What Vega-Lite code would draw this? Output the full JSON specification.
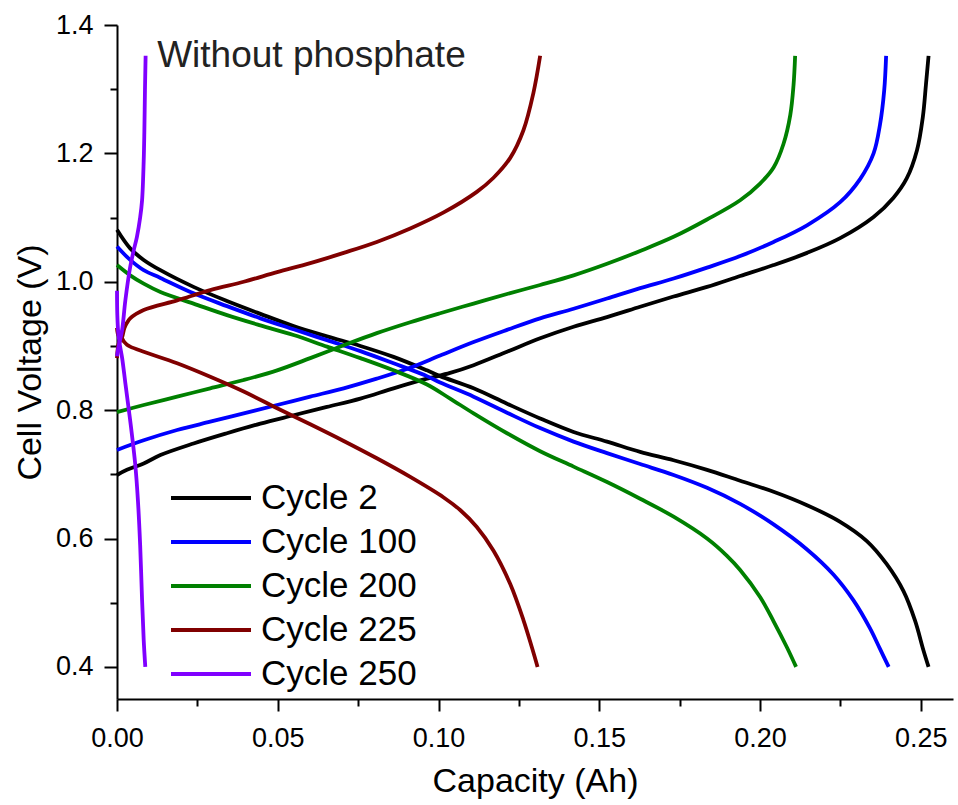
{
  "$schema": "https://vega.github.io/schema/vega-lite/v6.json",
  "width": 836,
  "height": 674,
  "autosize": {"type": "none"},
  "padding": {"left": 117, "top": 25, "right": 5, "bottom": 106},
  "background": "white",
  "config": {"font": "Liberation Sans", "view": {"stroke": null}, "axis": {"grid": false}},
  "encoding": {
    "x": {
      "field": "cap", "type": "quantitative",
      "scale": {"domain": [0, 0.26], "nice": false, "zero": false},
      "axis": {
        "title": "Capacity (Ah)",
        "values": [0, 0.025, 0.05, 0.075, 0.1, 0.125, 0.15, 0.175, 0.2, 0.225, 0.25],
        "labelExpr": "round(datum.value*40) % 2 == 0 ? format(datum.value, '.2f') : ''",
        "tickSize": 12,
        "tickDash": {"condition": {"test": "round(datum.value*40) % 2 == 1", "value": [7, 30]}, "value": [40, 0]},
        "labelPadding": 14, "titlePadding": 13,
        "labelFontSize": 27, "titleFontSize": 34, "titleFontWeight": "normal",
        "labelFont": "Liberation Sans", "titleFont": "Liberation Sans",
        "labelFlush": false, "labelOverlap": false, "grid": false,
        "domainColor": "black", "domainWidth": 2, "tickColor": "black", "tickWidth": 2,
        "labelColor": "black", "titleColor": "black"
      }
    },
    "y": {
      "field": "V", "type": "quantitative",
      "scale": {"domain": [0.35, 1.4], "nice": false, "zero": false},
      "axis": {
        "title": "Cell Voltage (V)",
        "values": [0.4, 0.5, 0.6, 0.7, 0.8, 0.9, 1.0, 1.1, 1.2, 1.3, 1.4],
        "labelExpr": "round(datum.value*10) % 2 == 0 ? format(datum.value, '.1f') : ''",
        "tickSize": 13,
        "tickDash": {"condition": {"test": "round(datum.value*10) % 2 == 1", "value": [7, 30]}, "value": [40, 0]},
        "labelPadding": 11, "titlePadding": 8,
        "labelFontSize": 27, "titleFontSize": 34, "titleFontWeight": "normal",
        "labelFont": "Liberation Sans", "titleFont": "Liberation Sans",
        "labelFlush": false, "labelOverlap": false, "grid": false,
        "domainColor": "black", "domainWidth": 2, "tickColor": "black", "tickWidth": 2,
        "labelColor": "black", "titleColor": "black"
      }
    }
  },
  "layer": [
    {
      "data": {"values": [
        {"cycle":"Cycle 2","branch":"c","i":0,"cap":0,"V":0.699},{"cycle":"Cycle 2","branch":"c","i":1,"cap":0.0031,"V":0.707},{"cycle":"Cycle 2","branch":"c","i":2,"cap":0.0083,"V":0.717},{"cycle":"Cycle 2","branch":"c","i":3,"cap":0.0135,"V":0.730},{"cycle":"Cycle 2","branch":"c","i":4,"cap":0.0238,"V":0.748},{"cycle":"Cycle 2","branch":"c","i":5,"cap":0.0342,"V":0.764},{"cycle":"Cycle 2","branch":"c","i":6,"cap":0.0446,"V":0.779},{"cycle":"Cycle 2","branch":"c","i":7,"cap":0.0549,"V":0.792},{"cycle":"Cycle 2","branch":"c","i":8,"cap":0.0653,"V":0.805},{"cycle":"Cycle 2","branch":"c","i":9,"cap":0.0757,"V":0.818},{"cycle":"Cycle 2","branch":"c","i":10,"cap":0.0860,"V":0.834},{"cycle":"Cycle 2","branch":"c","i":11,"cap":0.0964,"V":0.849},{"cycle":"Cycle 2","branch":"c","i":12,"cap":0.1036,"V":0.858},{"cycle":"Cycle 2","branch":"c","i":13,"cap":0.1109,"V":0.870},{"cycle":"Cycle 2","branch":"c","i":14,"cap":0.1213,"V":0.891},{"cycle":"Cycle 2","branch":"c","i":15,"cap":0.1316,"V":0.912},{"cycle":"Cycle 2","branch":"c","i":16,"cap":0.1420,"V":0.930},{"cycle":"Cycle 2","branch":"c","i":17,"cap":0.1524,"V":0.945},{"cycle":"Cycle 2","branch":"c","i":18,"cap":0.1627,"V":0.961},{"cycle":"Cycle 2","branch":"c","i":19,"cap":0.1731,"V":0.977},{"cycle":"Cycle 2","branch":"c","i":20,"cap":0.1835,"V":0.992},{"cycle":"Cycle 2","branch":"c","i":21,"cap":0.1938,"V":1.009},{"cycle":"Cycle 2","branch":"c","i":22,"cap":0.2042,"V":1.026},{"cycle":"Cycle 2","branch":"c","i":23,"cap":0.2146,"V":1.045},{"cycle":"Cycle 2","branch":"c","i":24,"cap":0.2249,"V":1.068},{"cycle":"Cycle 2","branch":"c","i":25,"cap":0.2353,"V":1.101},{"cycle":"Cycle 2","branch":"c","i":26,"cap":0.2415,"V":1.131},{"cycle":"Cycle 2","branch":"c","i":27,"cap":0.2456,"V":1.161},{"cycle":"Cycle 2","branch":"c","i":28,"cap":0.2488,"V":1.205},{"cycle":"Cycle 2","branch":"c","i":29,"cap":0.2506,"V":1.256},{"cycle":"Cycle 2","branch":"c","i":30,"cap":0.2516,"V":1.308},{"cycle":"Cycle 2","branch":"c","i":31,"cap":0.2524,"V":1.352},
        {"cycle":"Cycle 2","branch":"d","i":0,"cap":0,"V":1.081},{"cycle":"Cycle 2","branch":"d","i":1,"cap":0.0041,"V":1.052},{"cycle":"Cycle 2","branch":"d","i":2,"cap":0.0083,"V":1.034},{"cycle":"Cycle 2","branch":"d","i":3,"cap":0.0135,"V":1.018},{"cycle":"Cycle 2","branch":"d","i":4,"cap":0.0238,"V":0.992},{"cycle":"Cycle 2","branch":"d","i":5,"cap":0.0342,"V":0.970},{"cycle":"Cycle 2","branch":"d","i":6,"cap":0.0446,"V":0.950},{"cycle":"Cycle 2","branch":"d","i":7,"cap":0.0549,"V":0.931},{"cycle":"Cycle 2","branch":"d","i":8,"cap":0.0653,"V":0.915},{"cycle":"Cycle 2","branch":"d","i":9,"cap":0.0757,"V":0.900},{"cycle":"Cycle 2","branch":"d","i":10,"cap":0.0860,"V":0.883},{"cycle":"Cycle 2","branch":"d","i":11,"cap":0.0964,"V":0.862},{"cycle":"Cycle 2","branch":"d","i":12,"cap":0.1005,"V":0.853},{"cycle":"Cycle 2","branch":"d","i":13,"cap":0.1109,"V":0.834},{"cycle":"Cycle 2","branch":"d","i":14,"cap":0.1213,"V":0.810},{"cycle":"Cycle 2","branch":"d","i":15,"cap":0.1316,"V":0.787},{"cycle":"Cycle 2","branch":"d","i":16,"cap":0.1420,"V":0.766},{"cycle":"Cycle 2","branch":"d","i":17,"cap":0.1524,"V":0.751},{"cycle":"Cycle 2","branch":"d","i":18,"cap":0.1627,"V":0.735},{"cycle":"Cycle 2","branch":"d","i":19,"cap":0.1731,"V":0.722},{"cycle":"Cycle 2","branch":"d","i":20,"cap":0.1835,"V":0.707},{"cycle":"Cycle 2","branch":"d","i":21,"cap":0.1938,"V":0.690},{"cycle":"Cycle 2","branch":"d","i":22,"cap":0.2042,"V":0.673},{"cycle":"Cycle 2","branch":"d","i":23,"cap":0.2146,"V":0.652},{"cycle":"Cycle 2","branch":"d","i":24,"cap":0.2249,"V":0.626},{"cycle":"Cycle 2","branch":"d","i":25,"cap":0.2332,"V":0.596},{"cycle":"Cycle 2","branch":"d","i":26,"cap":0.2394,"V":0.560},{"cycle":"Cycle 2","branch":"d","i":27,"cap":0.2446,"V":0.518},{"cycle":"Cycle 2","branch":"d","i":28,"cap":0.2482,"V":0.472},{"cycle":"Cycle 2","branch":"d","i":29,"cap":0.2508,"V":0.426},{"cycle":"Cycle 2","branch":"d","i":30,"cap":0.2524,"V":0.400},
        {"cycle":"Cycle 100","branch":"c","i":0,"cap":0,"V":0.738},{"cycle":"Cycle 100","branch":"c","i":1,"cap":0.0083,"V":0.753},{"cycle":"Cycle 100","branch":"c","i":2,"cap":0.0187,"V":0.769},{"cycle":"Cycle 100","branch":"c","i":3,"cap":0.0290,"V":0.782},{"cycle":"Cycle 100","branch":"c","i":4,"cap":0.0394,"V":0.795},{"cycle":"Cycle 100","branch":"c","i":5,"cap":0.0498,"V":0.808},{"cycle":"Cycle 100","branch":"c","i":6,"cap":0.0601,"V":0.821},{"cycle":"Cycle 100","branch":"c","i":7,"cap":0.0705,"V":0.834},{"cycle":"Cycle 100","branch":"c","i":8,"cap":0.0808,"V":0.849},{"cycle":"Cycle 100","branch":"c","i":9,"cap":0.0912,"V":0.866},{"cycle":"Cycle 100","branch":"c","i":10,"cap":0.1005,"V":0.885},{"cycle":"Cycle 100","branch":"c","i":11,"cap":0.1109,"V":0.906},{"cycle":"Cycle 100","branch":"c","i":12,"cap":0.1213,"V":0.925},{"cycle":"Cycle 100","branch":"c","i":13,"cap":0.1316,"V":0.943},{"cycle":"Cycle 100","branch":"c","i":14,"cap":0.1420,"V":0.958},{"cycle":"Cycle 100","branch":"c","i":15,"cap":0.1524,"V":0.974},{"cycle":"Cycle 100","branch":"c","i":16,"cap":0.1627,"V":0.990},{"cycle":"Cycle 100","branch":"c","i":17,"cap":0.1731,"V":1.005},{"cycle":"Cycle 100","branch":"c","i":18,"cap":0.1835,"V":1.022},{"cycle":"Cycle 100","branch":"c","i":19,"cap":0.1938,"V":1.040},{"cycle":"Cycle 100","branch":"c","i":20,"cap":0.2042,"V":1.062},{"cycle":"Cycle 100","branch":"c","i":21,"cap":0.2146,"V":1.088},{"cycle":"Cycle 100","branch":"c","i":22,"cap":0.2249,"V":1.124},{"cycle":"Cycle 100","branch":"c","i":23,"cap":0.2311,"V":1.160},{"cycle":"Cycle 100","branch":"c","i":24,"cap":0.2353,"V":1.200},{"cycle":"Cycle 100","branch":"c","i":25,"cap":0.2373,"V":1.245},{"cycle":"Cycle 100","branch":"c","i":26,"cap":0.2386,"V":1.298},{"cycle":"Cycle 100","branch":"c","i":27,"cap":0.2392,"V":1.352},
        {"cycle":"Cycle 100","branch":"d","i":0,"cap":0,"V":1.055},{"cycle":"Cycle 100","branch":"d","i":1,"cap":0.0041,"V":1.034},{"cycle":"Cycle 100","branch":"d","i":2,"cap":0.0083,"V":1.018},{"cycle":"Cycle 100","branch":"d","i":3,"cap":0.0135,"V":1.006},{"cycle":"Cycle 100","branch":"d","i":4,"cap":0.0238,"V":0.982},{"cycle":"Cycle 100","branch":"d","i":5,"cap":0.0342,"V":0.962},{"cycle":"Cycle 100","branch":"d","i":6,"cap":0.0446,"V":0.943},{"cycle":"Cycle 100","branch":"d","i":7,"cap":0.0549,"V":0.926},{"cycle":"Cycle 100","branch":"d","i":8,"cap":0.0653,"V":0.909},{"cycle":"Cycle 100","branch":"d","i":9,"cap":0.0757,"V":0.892},{"cycle":"Cycle 100","branch":"d","i":10,"cap":0.0860,"V":0.873},{"cycle":"Cycle 100","branch":"d","i":11,"cap":0.0964,"V":0.853},{"cycle":"Cycle 100","branch":"d","i":12,"cap":0.1005,"V":0.843},{"cycle":"Cycle 100","branch":"d","i":13,"cap":0.1109,"V":0.821},{"cycle":"Cycle 100","branch":"d","i":14,"cap":0.1213,"V":0.796},{"cycle":"Cycle 100","branch":"d","i":15,"cap":0.1316,"V":0.772},{"cycle":"Cycle 100","branch":"d","i":16,"cap":0.1420,"V":0.751},{"cycle":"Cycle 100","branch":"d","i":17,"cap":0.1524,"V":0.733},{"cycle":"Cycle 100","branch":"d","i":18,"cap":0.1627,"V":0.716},{"cycle":"Cycle 100","branch":"d","i":19,"cap":0.1731,"V":0.699},{"cycle":"Cycle 100","branch":"d","i":20,"cap":0.1835,"V":0.679},{"cycle":"Cycle 100","branch":"d","i":21,"cap":0.1938,"V":0.654},{"cycle":"Cycle 100","branch":"d","i":22,"cap":0.2042,"V":0.622},{"cycle":"Cycle 100","branch":"d","i":23,"cap":0.2146,"V":0.583},{"cycle":"Cycle 100","branch":"d","i":24,"cap":0.2228,"V":0.544},{"cycle":"Cycle 100","branch":"d","i":25,"cap":0.2290,"V":0.504},{"cycle":"Cycle 100","branch":"d","i":26,"cap":0.2342,"V":0.460},{"cycle":"Cycle 100","branch":"d","i":27,"cap":0.2373,"V":0.428},{"cycle":"Cycle 100","branch":"d","i":28,"cap":0.2400,"V":0.400},
        {"cycle":"Cycle 200","branch":"c","i":0,"cap":0,"V":0.797},{"cycle":"Cycle 200","branch":"c","i":1,"cap":0.0083,"V":0.808},{"cycle":"Cycle 200","branch":"c","i":2,"cap":0.0187,"V":0.821},{"cycle":"Cycle 200","branch":"c","i":3,"cap":0.0290,"V":0.834},{"cycle":"Cycle 200","branch":"c","i":4,"cap":0.0394,"V":0.847},{"cycle":"Cycle 200","branch":"c","i":5,"cap":0.0498,"V":0.862},{"cycle":"Cycle 200","branch":"c","i":6,"cap":0.0601,"V":0.881},{"cycle":"Cycle 200","branch":"c","i":7,"cap":0.0705,"V":0.901},{"cycle":"Cycle 200","branch":"c","i":8,"cap":0.0808,"V":0.920},{"cycle":"Cycle 200","branch":"c","i":9,"cap":0.0912,"V":0.937},{"cycle":"Cycle 200","branch":"c","i":10,"cap":0.1005,"V":0.951},{"cycle":"Cycle 200","branch":"c","i":11,"cap":0.1109,"V":0.966},{"cycle":"Cycle 200","branch":"c","i":12,"cap":0.1213,"V":0.981},{"cycle":"Cycle 200","branch":"c","i":13,"cap":0.1316,"V":0.995},{"cycle":"Cycle 200","branch":"c","i":14,"cap":0.1420,"V":1.010},{"cycle":"Cycle 200","branch":"c","i":15,"cap":0.1524,"V":1.028},{"cycle":"Cycle 200","branch":"c","i":16,"cap":0.1627,"V":1.048},{"cycle":"Cycle 200","branch":"c","i":17,"cap":0.1731,"V":1.070},{"cycle":"Cycle 200","branch":"c","i":18,"cap":0.1835,"V":1.097},{"cycle":"Cycle 200","branch":"c","i":19,"cap":0.1938,"V":1.127},{"cycle":"Cycle 200","branch":"c","i":20,"cap":0.2000,"V":1.153},{"cycle":"Cycle 200","branch":"c","i":21,"cap":0.2042,"V":1.178},{"cycle":"Cycle 200","branch":"c","i":22,"cap":0.2073,"V":1.215},{"cycle":"Cycle 200","branch":"c","i":23,"cap":0.2094,"V":1.260},{"cycle":"Cycle 200","branch":"c","i":24,"cap":0.2104,"V":1.306},{"cycle":"Cycle 200","branch":"c","i":25,"cap":0.2109,"V":1.352},
        {"cycle":"Cycle 200","branch":"d","i":0,"cap":0,"V":1.026},{"cycle":"Cycle 200","branch":"d","i":1,"cap":0.0041,"V":1.010},{"cycle":"Cycle 200","branch":"d","i":2,"cap":0.0083,"V":0.997},{"cycle":"Cycle 200","branch":"d","i":3,"cap":0.0135,"V":0.984},{"cycle":"Cycle 200","branch":"d","i":4,"cap":0.0238,"V":0.966},{"cycle":"Cycle 200","branch":"d","i":5,"cap":0.0342,"V":0.948},{"cycle":"Cycle 200","branch":"d","i":6,"cap":0.0446,"V":0.932},{"cycle":"Cycle 200","branch":"d","i":7,"cap":0.0549,"V":0.917},{"cycle":"Cycle 200","branch":"d","i":8,"cap":0.0653,"V":0.899},{"cycle":"Cycle 200","branch":"d","i":9,"cap":0.0757,"V":0.881},{"cycle":"Cycle 200","branch":"d","i":10,"cap":0.0860,"V":0.862},{"cycle":"Cycle 200","branch":"d","i":11,"cap":0.0964,"V":0.840},{"cycle":"Cycle 200","branch":"d","i":12,"cap":0.1036,"V":0.818},{"cycle":"Cycle 200","branch":"d","i":13,"cap":0.1109,"V":0.795},{"cycle":"Cycle 200","branch":"d","i":14,"cap":0.1213,"V":0.764},{"cycle":"Cycle 200","branch":"d","i":15,"cap":0.1316,"V":0.736},{"cycle":"Cycle 200","branch":"d","i":16,"cap":0.1420,"V":0.712},{"cycle":"Cycle 200","branch":"d","i":17,"cap":0.1524,"V":0.688},{"cycle":"Cycle 200","branch":"d","i":18,"cap":0.1627,"V":0.662},{"cycle":"Cycle 200","branch":"d","i":19,"cap":0.1731,"V":0.634},{"cycle":"Cycle 200","branch":"d","i":20,"cap":0.1835,"V":0.600},{"cycle":"Cycle 200","branch":"d","i":21,"cap":0.1897,"V":0.573},{"cycle":"Cycle 200","branch":"d","i":22,"cap":0.1938,"V":0.551},{"cycle":"Cycle 200","branch":"d","i":23,"cap":0.2000,"V":0.509},{"cycle":"Cycle 200","branch":"d","i":24,"cap":0.2042,"V":0.471},{"cycle":"Cycle 200","branch":"d","i":25,"cap":0.2083,"V":0.431},{"cycle":"Cycle 200","branch":"d","i":26,"cap":0.2112,"V":0.400},
        {"cycle":"Cycle 225","branch":"c","i":0,"cap":0,"V":0.881},{"cycle":"Cycle 225","branch":"c","i":1,"cap":0.0002,"V":0.894},{"cycle":"Cycle 225","branch":"c","i":2,"cap":0.0006,"V":0.905},{"cycle":"Cycle 225","branch":"c","i":3,"cap":0.0016,"V":0.914},{"cycle":"Cycle 225","branch":"c","i":4,"cap":0.0023,"V":0.928},{"cycle":"Cycle 225","branch":"c","i":5,"cap":0.0031,"V":0.936},{"cycle":"Cycle 225","branch":"c","i":6,"cap":0.0041,"V":0.943},{"cycle":"Cycle 225","branch":"c","i":7,"cap":0.0083,"V":0.956},{"cycle":"Cycle 225","branch":"c","i":8,"cap":0.0187,"V":0.971},{"cycle":"Cycle 225","branch":"c","i":9,"cap":0.0290,"V":0.987},{"cycle":"Cycle 225","branch":"c","i":10,"cap":0.0394,"V":1.000},{"cycle":"Cycle 225","branch":"c","i":11,"cap":0.0498,"V":1.015},{"cycle":"Cycle 225","branch":"c","i":12,"cap":0.0601,"V":1.029},{"cycle":"Cycle 225","branch":"c","i":13,"cap":0.0705,"V":1.045},{"cycle":"Cycle 225","branch":"c","i":14,"cap":0.0808,"V":1.062},{"cycle":"Cycle 225","branch":"c","i":15,"cap":0.0912,"V":1.083},{"cycle":"Cycle 225","branch":"c","i":16,"cap":0.1016,"V":1.108},{"cycle":"Cycle 225","branch":"c","i":17,"cap":0.1119,"V":1.140},{"cycle":"Cycle 225","branch":"c","i":18,"cap":0.1171,"V":1.162},{"cycle":"Cycle 225","branch":"c","i":19,"cap":0.1223,"V":1.193},{"cycle":"Cycle 225","branch":"c","i":20,"cap":0.1264,"V":1.236},{"cycle":"Cycle 225","branch":"c","i":21,"cap":0.1295,"V":1.294},{"cycle":"Cycle 225","branch":"c","i":22,"cap":0.1316,"V":1.352},
        {"cycle":"Cycle 225","branch":"d","i":0,"cap":0,"V":0.928},{"cycle":"Cycle 225","branch":"d","i":1,"cap":0.0002,"V":0.920},{"cycle":"Cycle 225","branch":"d","i":2,"cap":0.0006,"V":0.915},{"cycle":"Cycle 225","branch":"d","i":3,"cap":0.0016,"V":0.911},{"cycle":"Cycle 225","branch":"d","i":4,"cap":0.0023,"V":0.906},{"cycle":"Cycle 225","branch":"d","i":5,"cap":0.0031,"V":0.902},{"cycle":"Cycle 225","branch":"d","i":6,"cap":0.0041,"V":0.899},{"cycle":"Cycle 225","branch":"d","i":7,"cap":0.0083,"V":0.891},{"cycle":"Cycle 225","branch":"d","i":8,"cap":0.0187,"V":0.873},{"cycle":"Cycle 225","branch":"d","i":9,"cap":0.0290,"V":0.852},{"cycle":"Cycle 225","branch":"d","i":10,"cap":0.0394,"V":0.829},{"cycle":"Cycle 225","branch":"d","i":11,"cap":0.0498,"V":0.803},{"cycle":"Cycle 225","branch":"d","i":12,"cap":0.0601,"V":0.778},{"cycle":"Cycle 225","branch":"d","i":13,"cap":0.0705,"V":0.752},{"cycle":"Cycle 225","branch":"d","i":14,"cap":0.0808,"V":0.725},{"cycle":"Cycle 225","branch":"d","i":15,"cap":0.0912,"V":0.696},{"cycle":"Cycle 225","branch":"d","i":16,"cap":0.1016,"V":0.664},{"cycle":"Cycle 225","branch":"d","i":17,"cap":0.1068,"V":0.644},{"cycle":"Cycle 225","branch":"d","i":18,"cap":0.1119,"V":0.618},{"cycle":"Cycle 225","branch":"d","i":19,"cap":0.1171,"V":0.581},{"cycle":"Cycle 225","branch":"d","i":20,"cap":0.1223,"V":0.529},{"cycle":"Cycle 225","branch":"d","i":21,"cap":0.1264,"V":0.473},{"cycle":"Cycle 225","branch":"d","i":22,"cap":0.1290,"V":0.431},{"cycle":"Cycle 225","branch":"d","i":23,"cap":0.1308,"V":0.400},
        {"cycle":"Cycle 250","branch":"c","i":0,"cap":0,"V":0.884},{"cycle":"Cycle 250","branch":"c","i":1,"cap":0.0004,"V":0.897},{"cycle":"Cycle 250","branch":"c","i":2,"cap":0.0009,"V":0.908},{"cycle":"Cycle 250","branch":"c","i":3,"cap":0.0016,"V":0.925},{"cycle":"Cycle 250","branch":"c","i":4,"cap":0.0026,"V":0.971},{"cycle":"Cycle 250","branch":"c","i":5,"cap":0.0041,"V":1.023},{"cycle":"Cycle 250","branch":"c","i":6,"cap":0.0052,"V":1.049},{"cycle":"Cycle 250","branch":"c","i":7,"cap":0.0062,"V":1.070},{"cycle":"Cycle 250","branch":"c","i":8,"cap":0.0072,"V":1.100},{"cycle":"Cycle 250","branch":"c","i":9,"cap":0.0078,"V":1.127},{"cycle":"Cycle 250","branch":"c","i":10,"cap":0.0083,"V":1.188},{"cycle":"Cycle 250","branch":"c","i":11,"cap":0.0085,"V":1.232},{"cycle":"Cycle 250","branch":"c","i":12,"cap":0.0087,"V":1.299},{"cycle":"Cycle 250","branch":"c","i":13,"cap":0.0089,"V":1.352},
        {"cycle":"Cycle 250","branch":"d","i":0,"cap":0,"V":0.986},{"cycle":"Cycle 250","branch":"d","i":1,"cap":0.0001,"V":0.948},{"cycle":"Cycle 250","branch":"d","i":2,"cap":0.0004,"V":0.920},{"cycle":"Cycle 250","branch":"d","i":3,"cap":0.0009,"V":0.901},{"cycle":"Cycle 250","branch":"d","i":4,"cap":0.0016,"V":0.881},{"cycle":"Cycle 250","branch":"d","i":5,"cap":0.0026,"V":0.842},{"cycle":"Cycle 250","branch":"d","i":6,"cap":0.0041,"V":0.784},{"cycle":"Cycle 250","branch":"d","i":7,"cap":0.0057,"V":0.714},{"cycle":"Cycle 250","branch":"d","i":8,"cap":0.0065,"V":0.660},{"cycle":"Cycle 250","branch":"d","i":9,"cap":0.0072,"V":0.590},{"cycle":"Cycle 250","branch":"d","i":10,"cap":0.0078,"V":0.504},{"cycle":"Cycle 250","branch":"d","i":11,"cap":0.0083,"V":0.442},{"cycle":"Cycle 250","branch":"d","i":12,"cap":0.0088,"V":0.400}
      ]},
      "mark": {"type": "line", "strokeWidth": 3.8, "interpolate": "catmull-rom"},
      "encoding": {
        "color": {
          "field": "cycle", "type": "nominal",
          "scale": {
            "domain": ["Cycle 2", "Cycle 100", "Cycle 200", "Cycle 225", "Cycle 250"],
            "range": ["#000000", "#0000ff", "#008000", "#800000", "#8000ff"]
          },
          "legend": {
            "title": null, "orient": "none", "legendX": 52, "legendY": 455,
            "symbolType": "stroke", "symbolSize": 6400, "symbolStrokeWidth": 4,
            "clipHeight": 36, "rowPadding": 8, "padding": 0,
            "labelFontSize": 35, "labelFont": "Liberation Sans", "labelColor": "black",
            "labelOffset": 8, "labelLimit": 0
          }
        },
        "detail": {"field": "branch"},
        "order": {"field": "i", "type": "quantitative"}
      }
    },
    {
      "data": {"values": [{"t": "Without phosphate", "cap": 0.0125, "V": 1.335}]},
      "mark": {"type": "text", "align": "left", "baseline": "alphabetic", "fontSize": 37, "font": "Liberation Sans", "color": "#222222"},
      "encoding": {
        "text": {"field": "t"}
      }
    }
  ]
}
